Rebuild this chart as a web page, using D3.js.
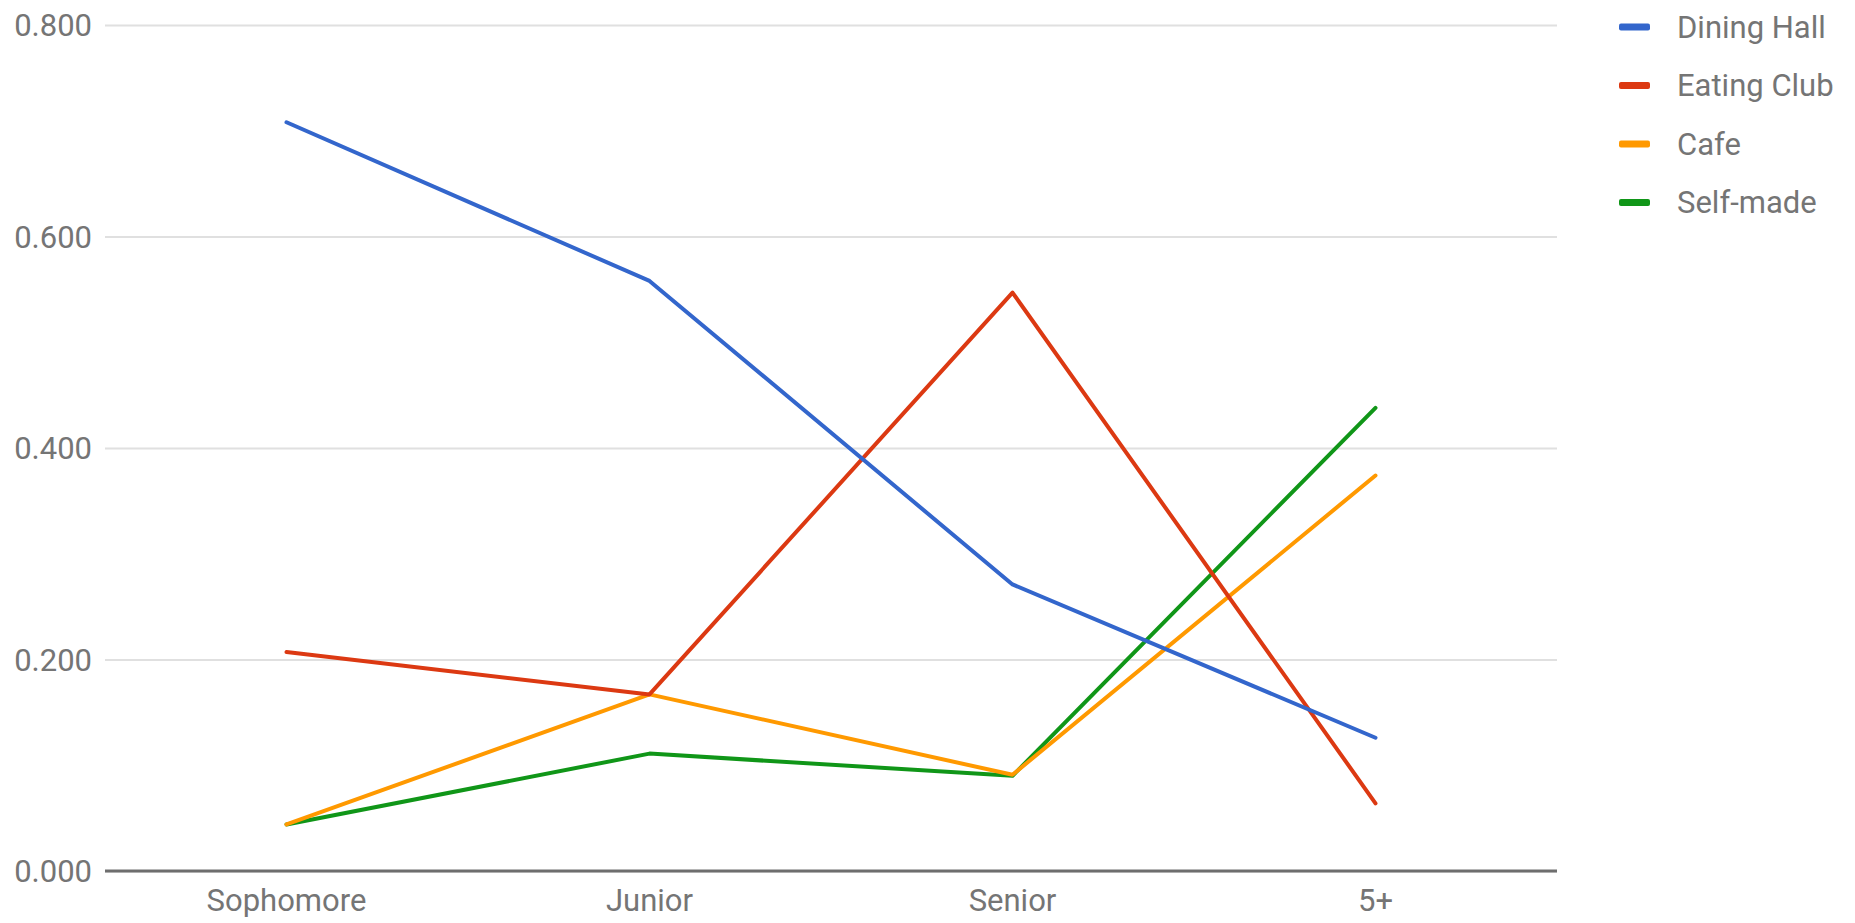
<!DOCTYPE html>
<html>
<head>
<meta charset="utf-8">
<script src="https://cdn.jsdelivr.net/npm/d3@7"></script>
<style>
  body { margin: 0; background: #fff; }
  .chart text { font-family: Roboto, 'Noto Sans', sans-serif; font-size: 31px; fill: #757575; }
  .grid line { stroke: #e0e0e0; stroke-width: 2; }
  .grid .domain { display: none; }
  .baseline { stroke: #6e6e6e; stroke-width: 3; }
  .x-axis .domain, .x-axis line { display: none; }
  .series { fill: none; stroke-width: 4; stroke-linejoin: round; stroke-linecap: round; }
</style>
</head>
<body>
<svg class="chart"></svg>
<script>
const years = ['Sophomore', 'Junior', 'Senior', '5+'];
const seriesNames = ['Dining Hall', 'Eating Club', 'Cafe', 'Self-made'];
const seriesColors = ['#3366cc', '#dc3912', '#ff9900', '#109618'];
const diningHall = [0.708, 0.558, 0.271, 0.126];
const eatingClub = [0.207, 0.167, 0.547, 0.064];
const cafe = [0.044, 0.167, 0.091, 0.374];
const selfMade = [0.044, 0.111, 0.090, 0.438];
const yTicks = [0, 0.2, 0.4, 0.6, 0.8];

const drawGrid = (chart, yScale, left, right) => {
  const yAxis = d3.axisLeft(yScale)
    .tickValues(yTicks)
    .tickFormat(d3.format('.3f'))
    .tickSize(-(right - left))
    .tickPadding(13);

  chart.append('g')
    .classed('grid', true)
    .attr('transform', `translate(${left}, 0)`)
    .call(yAxis)
    .selectAll('text')
    .attr('dy', '0.35em');

  chart.append('line')
    .classed('baseline', true)
    .attr('x1', left).attr('x2', right)
    .attr('y1', yScale(0)).attr('y2', yScale(0));
};

const drawLegend = (chart) => {
  const legend = chart.append('g').attr('transform', 'translate(1619, 27)');
  const rowHeight = 58.5;

  seriesNames.forEach((name, i) => {
    legend.append('rect')
      .attr('x', 0).attr('y', i * rowHeight - 3.5)
      .attr('width', 31).attr('height', 7)
      .attr('rx', 2)
      .attr('fill', seriesColors[i]);
    legend.append('text')
      .attr('x', 58).attr('y', i * rowHeight)
      .attr('dy', '0.35em')
      .text(name);
  });
};

const startApp = () => {
  const size = { width: 1855, height: 923 };
  const plot = { left: 105, right: 1557, top: 25, bottom: 871 };
  const chart = d3.select('.chart').attr('width', size.width).attr('height', size.height);

  const xScale = d3.scaleBand().domain(years).range([plot.left, plot.right]);
  const yScale = d3.scaleLinear().domain([0, 0.8]).range([plot.bottom, plot.top]);

  drawGrid(chart, yScale, plot.left, plot.right);

  chart.append('g')
    .classed('x-axis', true)
    .attr('transform', `translate(0, ${plot.bottom})`)
    .call(d3.axisBottom(xScale).tickSize(0).tickPadding(18));

  const allSeries = [diningHall, eatingClub, cafe, selfMade];
  const line = d3.line()
    .x((d, i) => xScale(years[i]) + xScale.bandwidth() / 2)
    .y(d => yScale(d));

  // last series drawn first so Dining Hall ends up on top
  chart.selectAll('.series')
    .data(allSeries.map((values, i) => ({ values, color: seriesColors[i] })).reverse())
    .enter()
    .append('path')
    .classed('series', true)
    .attr('stroke', d => d.color)
    .attr('d', d => line(d.values));

  drawLegend(chart);
};

window.onload = startApp;
</script>
</body>
</html>
